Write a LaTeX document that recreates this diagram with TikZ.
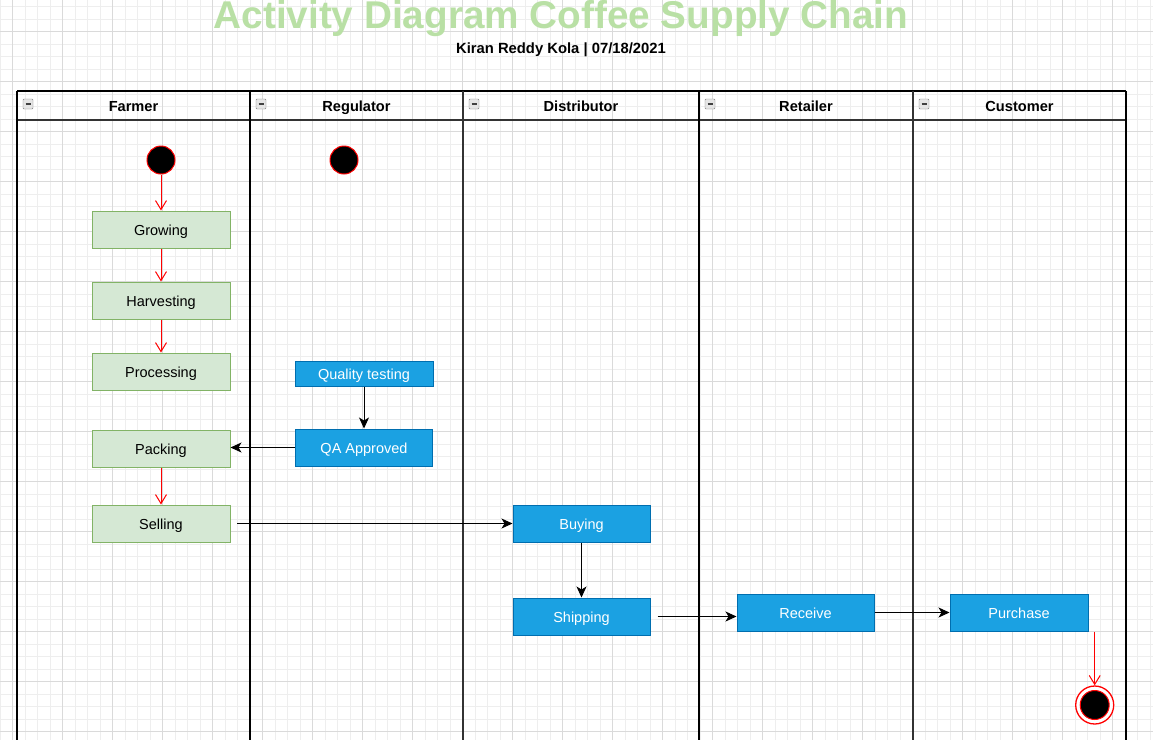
\documentclass[tikz,border=0pt]{standalone}
\usepackage{fontspec}
\setmainfont{Liberation Sans}
\usetikzlibrary{arrows.meta,positioning,calc}
\definecolor{gridmin}{HTML}{EEEEEE}
\definecolor{gridmaj}{HTML}{DADADA}
\definecolor{titlegreen}{HTML}{B9E0A5}
\definecolor{actfill}{HTML}{D5E8D4}
\definecolor{actline}{HTML}{82B366}
\definecolor{taskfill}{HTML}{1BA1E2}
\definecolor{taskline}{HTML}{006EAF}
\definecolor{lanegray}{HTML}{333333}

\begin{document}
\begin{tikzpicture}[x=1pt, y=-1pt,
	font=\fontsize{14.5}{17}\selectfont,
	act/.style={draw=actline, fill=actfill, line width=1pt, minimum width=138pt,
		minimum height=37pt, inner sep=0pt, text height=12pt, text depth=0pt},
	task/.style={act, draw=taskline, fill=taskfill, text=white},
	startdot/.style={circle, draw=red, fill=black, line width=1pt, minimum size=28pt, inner sep=0pt},
	redflow/.style={draw=red, line width=1pt, -{Straight Barb[length=9pt,width=11pt]}},
	flow/.style={line width=1pt, -{Stealth[length=11pt,width=10pt,inset=3pt]}},
	lanehead/.style={font=\fontsize{14.6}{17}\selectfont\bfseries, anchor=base},
	]
	\useasboundingbox (0,0) rectangle (1153,740);
	\fill[white] (0,0) rectangle (1153,740);
	% grid
	\foreach \gx in {0,12.5,...,1153} \draw[gridmin, line width=0.8pt] (\gx,0) -- (\gx,740);
	\foreach \gy in {6.5,19,...,740} \draw[gridmin, line width=0.8pt] (0,\gy) -- (1153,\gy);
	\foreach \gx in {12.5,62.5,...,1153} \draw[gridmaj, line width=0.8pt] (\gx,0) -- (\gx,740);
	\foreach \gy in {31.5,81.5,...,740} \draw[gridmaj, line width=0.8pt] (0,\gy) -- (1153,\gy);
	%
	\node[anchor=base, text=titlegreen, font=\fontsize{38.7}{40}\selectfont\bfseries] (title)
		at (561,28.5) {Activity Diagram Coffee Supply Chain};
	\node[anchor=base, font=\fontsize{14.8}{17}\selectfont\bfseries] (author)
		at (561,53.3) {Kiran Reddy Kola | 07/18/2021};
	% lanes
	\draw[line width=1.5pt] (17,91) -- (1126,91);
	\draw[lanegray, line width=2pt] (17,120) -- (1126,120);
	\foreach \lx/\lw/\lc in {17/1.3/black, 250/1.6/black, 463/2.6/lanegray,
		699/1.3/black, 913/2.6/lanegray, 1126/1.3/black}
		\draw[\lc, line width=\lw pt] (\lx,91) -- (\lx,740);
	\foreach \lx in {17,250,463,699,913} {
		\draw[gray, fill=gray!20, rounded corners=1pt] (\lx+6,99) rectangle (\lx+16,109);
		\draw[black!75, line width=1.2pt] (\lx+8.5,104) -- (\lx+13.5,104);
	}
	\node[lanehead] (farmer) at (133.5,111) {Farmer};
	\node[lanehead] (regulator) at (356.5,111) {Regulator};
	\node[lanehead] (distributor) at (581,111) {Distributor};
	\node[lanehead] (retailer) at (806,111) {Retailer};
	\node[lanehead] (customer) at (1019.5,111) {Customer};
	% farmer
	\node[startdot] (sfarm) at (161,160) {};
	\node[act] (grow) at (161,229.5) {Growing};
	\node[act, below=33pt of grow] (harv) {Harvesting};
	\node[act, below=33pt of harv] (proc) {Processing};
	\node[act, below=39pt of proc] (pack) {Packing};
	\node[act, below=37pt of pack] (sell) {Selling};
	% regulator
	\node[startdot] (sreg) at (344,160) {};
	\node[task, minimum height=25pt] (qt) at (364,373.5) {Quality testing};
	\node[task, minimum width=137pt, below=42pt of qt] (qa) {QA Approved};
	% distributor, retailer, customer
	\node[task, minimum width=137pt] (buy) at (581.5,523.5) {Buying};
	\node[task, minimum width=137pt, below=55pt of buy] (ship) {Shipping};
	\node[task, minimum width=137pt] (recv) at (805.5,612.5) {Receive};
	\node[task, right=75pt of recv] (purch) {Purchase};
	\node[circle, draw=red, fill=white, line width=1.3pt, minimum size=38pt, inner sep=0pt]
		(stop) at (1094.7,705) {};
	\node[circle, draw=red, fill=black, line width=1pt, minimum size=29pt, inner sep=0pt]
		at (stop) {};
	\coordinate (pout) at (purch.south east -| stop);
	%
	\draw[redflow] (sfarm) -- (grow);
	\draw[redflow] (grow) -- (harv);
	\draw[redflow] (harv) -- (proc);
	\draw[redflow] (pack) -- (sell);
	\draw[redflow] (pout) -- (stop);
	\draw[flow] (qt) -- (qa);
	\draw[flow] (qa.west) -- (pack.east |- qa.west);
	\draw[flow, shorten <=6.5pt] (sell) -- (buy);
	\draw[flow] (buy) -- (ship);
	\draw[flow, shorten <=7pt] (ship.east) -- (ship.east -| recv.west);
	\draw[flow] (recv) -- (purch);
\end{tikzpicture}
\end{document}
